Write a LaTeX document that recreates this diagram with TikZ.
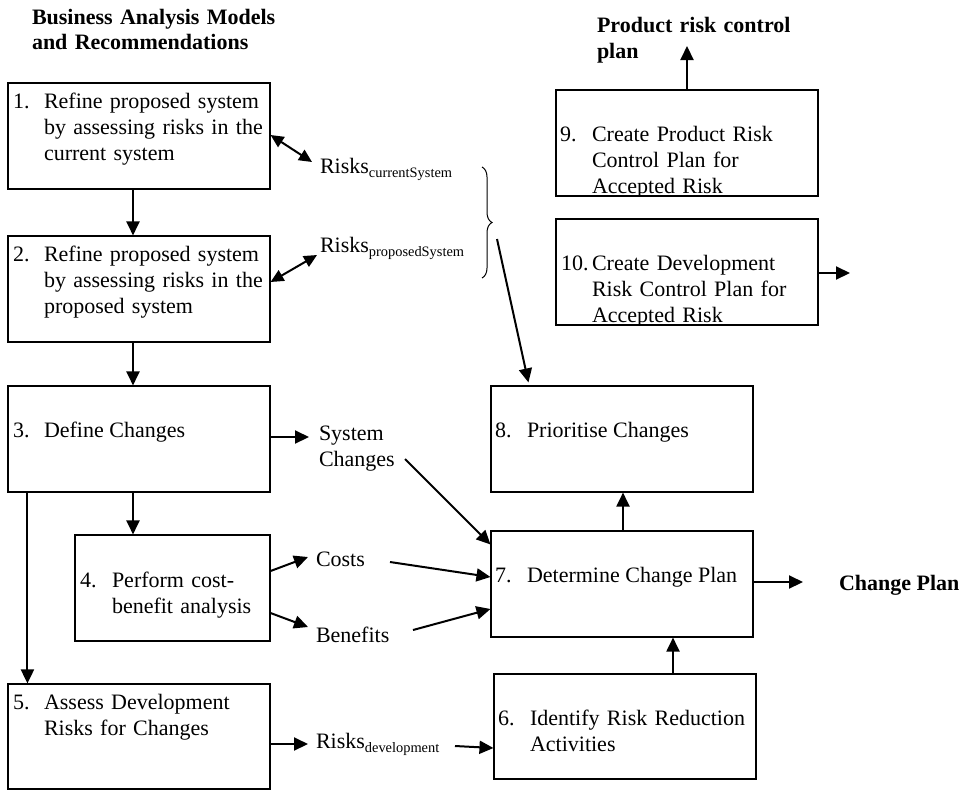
\documentclass[tikz,border=0pt]{standalone}
\usepackage{fontspec}
\setmainfont{Liberation Serif}
\usetikzlibrary{arrows.meta,decorations.pathreplacing,calc}
\newcommand{\subsc}[1]{\raisebox{-4.5pt}{\fontsize{14.4}{16}\selectfont #1}}
\begin{document}
\begin{tikzpicture}[x=1pt,y=-1pt,
 box/.style={draw, line width=1.1pt, rectangle, inner sep=0pt, minimum width=262pt, minimum height=106pt},
 txt/.style={anchor=base west, inner sep=0pt, outer sep=0pt, font=\fontsize{22}{26}\selectfont, align=left},
 btxt/.style={txt, font=\fontsize{22}{26}\selectfont\bfseries},
 arr/.style={line width=2pt, -{Triangle[length=14pt,width=13pt]}},
 darr/.style={line width=2pt, {Triangle[length=13pt,width=12pt]}-{Triangle[length=13pt,width=12pt]}},
 bracestyle/.style={decorate, decoration={brace, amplitude=10pt}, line width=1pt}
]
\useasboundingbox (0,0) rectangle (965,790);

% boxes
\node[box] (b1) at (139,136) {};
\node[box] (b2) at (139,289) {};
\node[box] (b3) at (139,439) {};
\node[box, minimum width=195pt] (b4) at (172.5,588) {};
\node[box, minimum height=105pt] (b5) at (139,736.5) {};
\node[box] (b8) at (622,439) {};
\node[box] (b7) at (622,584) {};
\node[box, minimum height=105pt] (b6) at (625,726.5) {};
\node[box] (b9) at (687,143) {};
\node[box] (b10) at (687,272) {};

% box texts
\node[txt] (n1) at (13,108) {1.};
\node[txt, text width=225pt] (t1) at (44,108) {Refine proposed system\\by assessing risks in the\\current system};
\node[txt] (n2) at (13,261) {2.};
\node[txt, text width=225pt] (t2) at (44,261) {Refine proposed system\\by assessing risks in the\\proposed system};
\node[txt] (n3) at (13,437) {3.};
\node[txt] (t3) at (44,437) {Define Changes};
\node[txt] (n4) at (80,587) {4.};
\node[txt, text width=155pt] (t4) at (112,587) {Perform cost-\\benefit analysis};
\node[txt] (n5) at (13,709) {5.};
\node[txt, text width=225pt] (t5) at (44,709) {Assess Development\\Risks for Changes};
\node[txt] (n8) at (495,437) {8.};
\node[txt] (t8) at (527,437) {Prioritise Changes};
\node[txt] (n7) at (495,582) {7.};
\node[txt] (t7) at (527,582) {Determine Change Plan};
\node[txt] (n6) at (498,725) {6.};
\node[txt, text width=225pt] (t6) at (530,725) {Identify Risk Reduction\\Activities};
\begin{scope}
\clip (b9.north west) rectangle (b9.south east);
\node[txt] (n9) at (560,141) {9.};
\node[txt, text width=225pt] (t9) at (592,141) {Create Product Risk\\Control Plan for\\Accepted Risk};
\end{scope}
\begin{scope}
\clip (b10.north west) rectangle (b10.south east);
\node[txt] (n10) at (561,270) {10.};
\node[txt, text width=225pt] (t10) at (592,270) {Create Development\\Risk Control Plan for\\Accepted Risk};
\end{scope}
\node[box] at (b9) {};
\node[box] at (b10) {};

% headings
\node[btxt, text width=320pt, font=\fontsize{22}{25}\selectfont\bfseries] (title) at (32,24) {Business Analysis Models\\and Recommendations};
\node[btxt, text width=250pt] (pr) at (597,32) {Product risk control\\plan};
\node[btxt] (cp) at (839,590) {Change Plan};

% labels
\node[txt] (rc) at (320,173) {Risks\subsc{currentSystem}};
\node[txt] (rp) at (320,252) {Risks\subsc{proposedSystem}};
\node[txt, text width=110pt] (sc) at (319,440) {System\\Changes};
\node[txt] (co) at (316,566) {Costs};
\node[txt] (be) at (316,642) {Benefits};
\node[txt] (rd) at (316,748) {Risks\subsc{development}};

\coordinate (brTop) at (482,167);
\coordinate (brBot) at (482,278);
\coordinate (brTip) at (492,223);
\coordinate (o10) at (850,273);

% connectors
\draw[darr] ($(b1.east)+(0,-1)$) -- ($(rc.base west)+(-8,-11)$);
\draw[darr] ($(b2.east)+(0,-7)$) -- ($(rp.base west)+(-3,3)$);
\draw[arr] ($(b1.south)+(-6,0)$) -- ($(b2.north)+(-6,0)$);
\draw[arr] ($(b2.south)+(-6,0)$) -- ($(b3.north)+(-6,0)$);
\draw[arr] ($(b3.south)+(-6,0)$) -- ($(b4.north)+(-39.5,0)$);
\draw[arr] ($(b3.south west)+(20,0)$) -- ($(b5.north west)+(20,0)$);
\draw[arr] ($(b3.east)+(0,-2)$) -- ($(sc.base west)+(-10,-3)$);
\draw[arr] ($(sc.base west)+(86,19)$) -- ($(b7.north west)+(0,14)$);
\draw[arr] ($(b4.east)+(0,-17)$) -- ($(co.base west)+(-8,-9)$);
\draw[arr] ($(b4.east)+(0,25)$) -- ($(be.base west)+(-8,-15)$);
\draw[arr] ($(co.base west)+(74,-4)$) -- ($(b7.west)+(0,-7)$);
\draw[arr] ($(be.base west)+(97,-12)$) -- ($(b7.west)+(0,25)$);
\draw[arr] ($(b5.east)+(0,7.5)$) -- ($(rd.base west)+(-8,-4)$);
\draw[arr] ($(rd.base west)+(139,-2)$) -- ($(b6.west)+(0,21.5)$);
\draw[arr] ($(b6.north)+(48,0)$) -- ($(b7.south)+(51,0)$);
\draw[arr] ($(b7.north)+(1,0)$) -- ($(b8.south)+(1,0)$);
\draw[arr] ($(b7.east)+(0,-2)$) -- ($(cp.base west)+(-36,-8)$);
\draw[arr] (b9.north) -- ($(pr.base west)+(90,14)$);
\draw[arr] ($(b10.east)+(0,1)$) -- (o10);
\draw[bracestyle] (brTop) -- (brBot);
\draw[line width=2pt, -{Triangle[length=14pt,width=13pt]}] ($(brTip)+(5,16)$) -- ($(b8.north west)+(38,-3)$);
\end{tikzpicture}
\end{document}
